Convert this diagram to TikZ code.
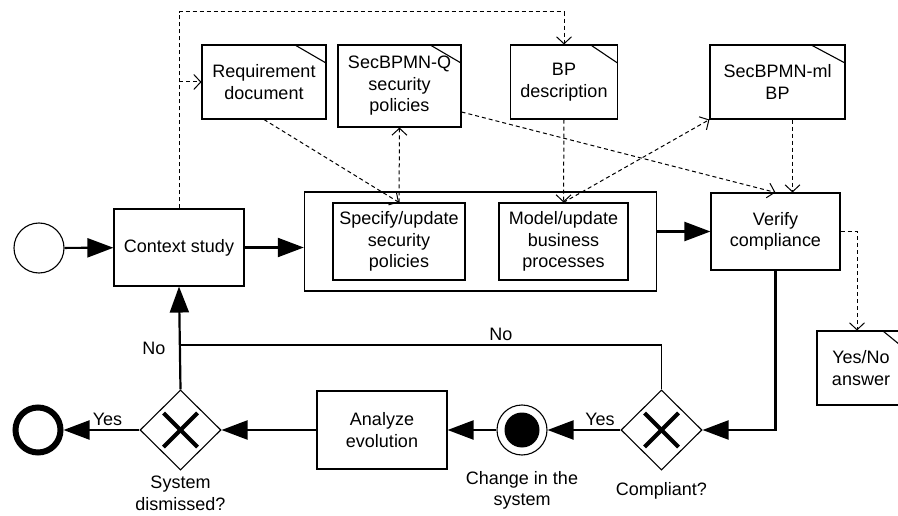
\documentclass[tikz,border=0pt]{standalone}
\usepackage{fontspec}
\setmainfont{Liberation Sans}
\usetikzlibrary{arrows.meta,shapes.geometric,fit,calc,positioning}

\tikzset{
  every node/.style={font=\fontsize{18}{21.5}\selectfont},
  task/.style={draw,line width=1.1pt,align=center,minimum width=130pt,minimum height=77pt,inner sep=0pt},
  doc/.style={draw,line width=1.1pt,align=center,minimum height=74pt,inner sep=0pt,
    path picture={\draw[line width=1.1pt] ($(path picture bounding box.north east)!0.25!(path picture bounding box.north west)$) -- ([yshift=-18pt]path picture bounding box.north east);}},
  gateway/.style={diamond,draw,line width=1.1pt,minimum width=81pt,minimum height=80pt,inner sep=0pt,
    path picture={
      \draw[line width=4pt] ([shift={(-17pt,-17pt)}]path picture bounding box.center) -- ([shift={(17pt,17pt)}]path picture bounding box.center);
      \draw[line width=4pt] ([shift={(-17pt,17pt)}]path picture bounding box.center) -- ([shift={(17pt,-17pt)}]path picture bounding box.center);}},
  event/.style={circle,draw,line width=1.1pt,minimum size=50pt,inner sep=0pt},
  flow/.style={line width=2.2pt,-{Triangle[length=26pt,width=19pt]}},
  data/.style={line width=1pt,dash pattern=on 4pt off 3pt,-{Straight Barb[length=7pt,width=15pt]}}
}

\begin{document}
\begin{tikzpicture}[x=1pt,y=-1pt]
\useasboundingbox (0,0) rectangle (898,516);
\clip (0,0) rectangle (898,516);

% main flow
\node[event] (start) at (39,248) {};
\node[task] (ctx) at (179,247.5) {Context study};
\node[task,minimum width=132pt] (spec) at (399,241.5) {Specify/update\\security\\policies};
\node[task,minimum width=129pt] (model) at (563.5,241.5) {Model/update\\business\\processes};
\node[draw,line width=1.3pt,fit=(spec)(model),inner xsep=28pt,inner ysep=10.5pt] (grp) {};
\node[task,minimum width=129pt] (ver) at (775.5,231.5) {Verify\\compliance};

% bottom row
\node[gateway,label={[align=center,label distance=8.6pt]below:Compliant?}] (comp) at (661.5,430) {};
\node[event,label={[align=center,label distance=12pt]below:Change in the\\system},
  path picture={\fill (path picture bounding box.center) circle (17.5pt);}] (chg) at (522,430) {};
\node[task,minimum height=78pt] (ana) at (382,430) {Analyze\\evolution};
\node[gateway,label={[align=center,label distance=2pt]below:System\\dismissed?}] (dism) at (180.5,430) {};
\node[circle,draw,line width=6pt,minimum size=45pt,inner sep=0pt] (end) at (38,430) {};

% documents
\node[doc,minimum width=124pt] (req) at (264,82) {Requirement\\document};
\node[doc,minimum width=123pt,minimum height=82pt] (secq) at (399.5,86) {SecBPMN-Q\\security\\policies};
\node[doc,minimum width=107pt] (bp) at (564,82) {BP\\description};
\node[doc,minimum width=135pt] (ml) at (777.5,82) {SecBPMN-ml\\BP};
\node[doc,minimum width=88pt] (yn) at (861,368) {Yes/No\\answer};

\draw[flow] (start) -- (ctx);
\draw[flow] (ctx.east) -- (ctx.east -| grp.west);
\draw[flow] (grp.east |- ver.west) -- (ver.west);
\draw[flow] (ver.south) |- (comp.east);
\draw[flow] (comp.west) -- node[pos=0.28,above] {Yes} (chg.east);
\draw[flow] (chg) -- (ana);
\draw[flow] (ana) -- (dism);
\draw[flow] (dism.west) -- node[pos=0.42,above] {Yes} (end.east);
\draw[flow] (dism.north) -- node[pos=0.4,left=10pt] {No} (ctx.south);
\coordinate (nojoin) at (180.5,345);
\draw[line width=1.1pt] (comp.north) |- node[pos=0.667,above] {No} (nojoin);

% data associations
\draw[data] (ctx.north) -- (ctx.north |- 0,12) -| (bp.north);
\draw[data] (ctx.north |- req.west) -- (req.west);
\draw[data] (req.south) -- (spec.north);
\draw[data] (spec.north) -- (secq.south);
\draw[data] ([yshift=-26pt]secq.east) -- (ver.north);
\draw[data] (bp.south) -- (model.north);
\draw[data] (model.north) -- (ml.south west);
\draw[data] ([xshift=15pt]ml.south) -- ([xshift=15pt]ml.south |- ver.north);
\draw[data] (ver.east) -| ([xshift=-4pt]yn.north);
\end{tikzpicture}
\end{document}
